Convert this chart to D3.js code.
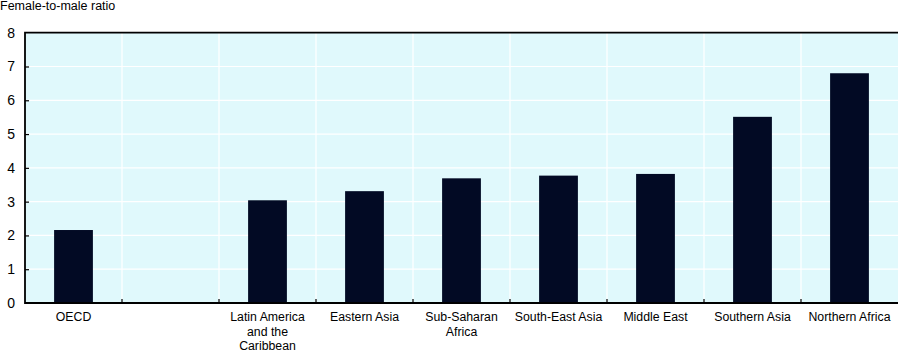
<!DOCTYPE html>
<html>
<head>
<meta charset="utf-8">
<script src="https://cdn.jsdelivr.net/npm/d3@7"></script>
<style>
  html, body { margin: 0; padding: 0; background: #ffffff; }
  svg { display: block; font-family: "Liberation Sans", Arial, sans-serif; }
</style>
</head>
<body>
<svg id="chart" width="898" height="354"></svg>
<script>
const categories = ["OECD", "", "Latin America and the Caribbean", "Eastern Asia", "Sub-Saharan Africa", "South-East Asia", "Middle East", "Southern Asia", "Northern Africa"];
const values = [2.16, null, 3.04, 3.31, 3.69, 3.77, 3.82, 5.51, 6.80];
const yTicks = [0, 1, 2, 3, 4, 5, 6, 7, 8];
const yTitle = "Female-to-male ratio";

const svg = d3.select("#chart");
const mLeft = 25, mRight = 898, mTop = 32.7, mBottom = 303;

const x = d3.scaleBand().domain(categories.map((c, i) => i)).range([mLeft, mRight])
  .paddingInner(0.6).paddingOuter(0.3);
const y = d3.scaleLinear().domain([0, 8]).range([mBottom, mTop]);
const step = x.step();

// background
svg.append("rect").attr("x", mLeft).attr("y", mTop).attr("width", mRight - mLeft).attr("height", mBottom - mTop)
  .attr("fill", "#e0f9fc");

// horizontal grid
svg.append("g").selectAll("line").data(yTicks.slice(1, -1)).join("line")
  .attr("x1", mLeft).attr("x2", mRight).attr("y1", d => y(d)).attr("y2", d => y(d))
  .attr("stroke", "#ffffff").attr("stroke-width", 1.2);

// vertical grid at slot boundaries
const bounds = d3.range(1, categories.length).map(i => mLeft + i * step);
svg.append("g").selectAll("line").data(bounds).join("line")
  .attr("x1", d => d).attr("x2", d => d).attr("y1", mTop).attr("y2", mBottom)
  .attr("stroke", "#ffffff").attr("stroke-width", 1.2);

// bars
svg.append("g").selectAll("rect").data(values.map((v, i) => ({v, i})).filter(d => d.v != null)).join("rect")
  .attr("x", d => x(d.i)).attr("width", x.bandwidth())
  .attr("y", d => y(d.v)).attr("height", d => y(0) - y(d.v))
  .attr("fill", "#020a24");

// frame: top, left, bottom
svg.append("path").attr("d", `M${mRight},${mTop}H${mLeft}V${mBottom}H${mRight}`)
  .attr("fill", "none").attr("stroke", "#000").attr("stroke-width", 1.8);

// y axis
const yAxis = d3.axisLeft(y).tickValues(yTicks).tickSize(-4).tickPadding(10).tickFormat(d3.format("d"));
const gy = svg.append("g").attr("transform", `translate(${mLeft},0)`).call(yAxis);
gy.select(".domain").remove();
gy.selectAll(".tick line").attr("stroke", "#000").attr("stroke-width", 1.2)
  .attr("display", d => (d === 0 || d === 8) ? "none" : null);
gy.selectAll(".tick text").attr("font-size", 14).attr("fill", "#000")
  .attr("font-family", "Liberation Sans, Arial, sans-serif");

// x ticks at slot boundaries (pointing up)
svg.append("g").selectAll("line").data(bounds).join("line")
  .attr("x1", d => d).attr("x2", d => d).attr("y1", mBottom).attr("y2", mBottom - 4)
  .attr("stroke", "#000").attr("stroke-width", 1.2);

// category labels with wrapping
const lab = svg.append("g").attr("font-size", 12.3).attr("fill", "#000").attr("text-anchor", "middle");
categories.forEach((c, i) => {
  if (!c) return;
  const cx = x(i) + x.bandwidth() / 2;
  const t = lab.append("text").attr("x", cx).attr("y", 321);
  const words = c.split(" ");
  let line = [];
  let tspan = t.append("tspan").attr("x", cx).attr("dy", 0);
  words.forEach(w => {
    line.push(w);
    tspan.text(line.join(" "));
    if (tspan.node().getComputedTextLength() > 93 && line.length > 1) {
      line.pop();
      tspan.text(line.join(" "));
      line = [w];
      tspan = t.append("tspan").attr("x", cx).attr("dy", 14.5).text(w);
    }
  });
});

// y title
svg.append("text").attr("x", 0).attr("y", 10).attr("font-size", 12.5).attr("fill", "#000").text(yTitle);
</script>
</body>
</html>
